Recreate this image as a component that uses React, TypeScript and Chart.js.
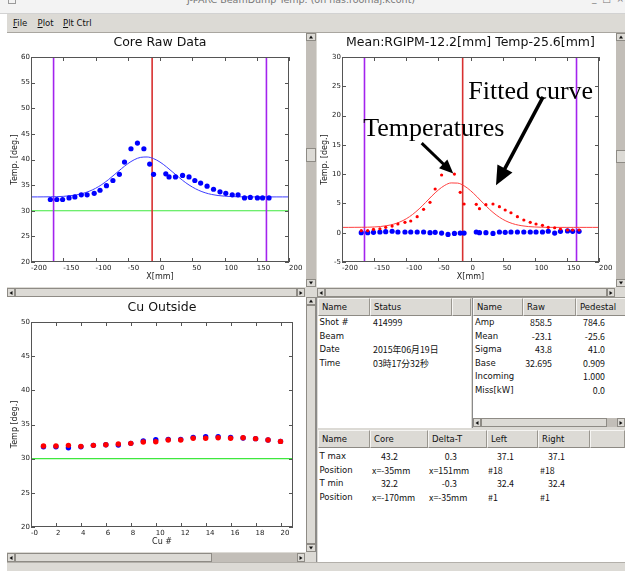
import React, { useEffect, useRef } from 'react';
import { Chart, registerables } from 'chart.js';

Chart.register(...registerables);

// ---------------- data ----------------
// thermocouple positions along the core [mm]
const positionMm = [-170, -160, -151, -141, -132, -122, -113, -102, -93, -83, -73, -63, -55, -45, -35, -25, -16, -10, 9, 14, 24, 35, 45, 54, 63, 73, 83, 93, 102, 112, 121, 131, 140, 151, 159, 169];
// Core raw temperatures [deg.]
const coreTemp = [32.2, 32.2, 32.2, 32.5, 32.7, 33.1, 33.1, 33.4, 34.0, 34.9, 35.9, 37.1, 39.5, 42.1, 43.2, 42.1, 39.1, 37.1, 37.2, 36.6, 36.6, 36.9, 36.6, 35.9, 35.4, 34.8, 34.2, 33.7, 33.4, 33.1, 33.1, 32.5, 32.6, 32.5, 32.5, 32.5];
// pedestal-subtracted temperatures [deg.]
const netTemp = [0.34, 0.34, 0.58, 0.68, 0.92, 1.14, 1.49, 1.78, 2.0, 2.73, 4.0, 5.19, 7.46, 9.85, 11.1, 10.02, 6.9, 4.9, 4.85, 4.1, 4.78, 4.9, 4.44, 3.88, 3.41, 2.73, 2.17, 1.78, 1.49, 1.26, 0.92, 0.85, 0.63, 0.46, 0.46, 0.46];
// Delta-T [deg.]
const deltaT = [0.0, 0.0, 0.06, 0.12, 0.17, 0.25, 0.12, 0.12, 0.12, 0.12, 0.12, 0.0, 0.06, -0.06, -0.3, -0.12, -0.06, -0.06, 0.12, 0.0, 0.0, -0.12, 0.12, 0.06, 0.12, 0.12, 0.12, 0.12, 0.12, 0.12, 0.25, -0.06, 0.23, 0.3, 0.23, 0.23];

// fitted curves, read every 10 mm
const curveX = [-200, -190, -180, -170, -160, -150, -140, -130, -120, -110, -100, -90, -80, -70, -60, -50, -40, -30, -20, -10, 0, 10, 20, 30, 40, 50, 60, 70, 80, 90, 100, 110, 120, 130, 140, 150, 160, 170, 180, 190, 200];
const coreFit = [32.70, 32.70, 32.71, 32.72, 32.75, 32.81, 32.92, 33.09, 33.37, 33.79, 34.37, 35.13, 36.06, 37.11, 38.18, 39.17, 39.95, 40.42, 40.49, 40.17, 39.50, 38.57, 37.51, 36.45, 35.46, 34.64, 33.99, 33.51, 33.18, 32.97, 32.85, 32.77, 32.73, 32.71, 32.70, 32.70, 32.70, 32.70, 32.70, 32.70, 32.70];
const netFit = [0.91, 0.91, 0.92, 0.93, 0.94, 0.98, 1.06, 1.21, 1.45, 1.83, 2.38, 3.13, 4.07, 5.15, 6.28, 7.30, 8.09, 8.50, 8.47, 8.01, 7.19, 6.15, 5.02, 3.95, 3.03, 2.30, 1.77, 1.41, 1.19, 1.05, 0.98, 0.94, 0.92, 0.91, 0.91, 0.91, 0.91, 0.91, 0.91, 0.91, 0.91];

const boundaryMm = [-165, 165];
const meanMm = -12.2;
const referenceTemp = 30;

// axis ranges / ticks
const mmRange = [-200, 200, 50];
const coreRange = [20, 60, 5];
const netRange = [-5, 30, 5];
const cuXRange = [0, 21, 2];
const cuYRange = [20, 50, 5];

// Cu outside
const cuNumber = [1, 2, 3, 4, 5, 6, 7, 8, 9, 10, 11, 12, 13, 14, 15, 16, 17, 18, 19, 20];
const cuLeftTemp = [31.75, 31.75, 31.6, 31.75, 31.95, 32.04, 32.0, 32.24, 32.58, 32.78, 32.83, 32.83, 33.12, 33.22, 33.22, 33.12, 33.02, 32.93, 32.73, 32.53];
const cuRightTemp = [31.85, 31.85, 31.95, 31.8, 31.95, 32.04, 32.14, 32.24, 32.44, 32.48, 32.73, 32.73, 32.98, 32.98, 33.07, 32.98, 33.07, 32.93, 32.73, 32.53];

// callouts on the Mean plot (data coordinates)
const calloutText = ['Temperatures', 'Fitted curve'];
const calloutX = [-167, -3.5];
const calloutY = [16.5, 22.8];
const arrowFromX = [-76, 113];
const arrowFromY = [15.3, 23.2];
const arrowToX = [-26.8, 39.7];
const arrowToY = [10.1, 8.1];

// tables
const statusNames = ['Shot #', 'Beam', 'Date', 'Time'];
const statusValues = ['414999', '', '2015年06月19日', '03時17分32秒'];
const fitNames = ['Amp', 'Mean', 'Sigma', 'Base', 'Incoming', 'Miss[kW]'];
const fitRaw = ['858.5', '-23.1', '43.8', '32.695', '', ''];
const fitPedestal = ['784.6', '-25.6', '41.0', '0.909', '1.000', '0.0'];
const summaryNames = ['T max', 'Position', 'T min', 'Position'];
const summaryCore = ['43.2', 'x=-35mm', '32.2', 'x=-170mm'];
const summaryDelta = ['0.3', 'x=151mm', '-0.3', 'x=-35mm'];
const summaryLeft = ['37.1', '#18', '32.4', '#1'];
const summaryRight = ['37.1', '#18', '32.4', '#1'];

// ---------------- chart helpers ----------------
const pts = (xs: number[], ys: number[]) => xs.map((x, i) => ({ x, y: ys[i] }));
const vline = (x: number, r: number[]) => [{ x, y: r[0] }, { x, y: r[1] }];
const hline = (y: number, r: number[]) => [{ x: r[0], y }, { x: r[1], y }];

const TICK_FONT = { family: 'DejaVu Sans', size: 7 };

function decor(o: { title: string; xTitle: string; yTitle: string; titleY: number; xTitleY: number; yTitleX: number }) {
  return {
    id: 'decor',
    afterDatasetsDraw(chart: any) {
      const { ctx, chartArea: a } = chart;
      const xs = chart.scales.x;
      const ys = chart.scales.y;
      ctx.save();
      ctx.strokeStyle = '#555';
      ctx.lineWidth = 1;
      ctx.strokeRect(a.left + 0.5, a.top + 0.5, a.right - a.left - 1, a.bottom - a.top - 1);
      ctx.beginPath();
      for (const t of xs.ticks) {
        const p = Math.round(xs.getPixelForValue(t.value)) + 0.5;
        ctx.moveTo(p, a.bottom); ctx.lineTo(p, a.bottom - 4);
        ctx.moveTo(p, a.top); ctx.lineTo(p, a.top + 4);
      }
      for (const t of ys.ticks) {
        const p = Math.round(ys.getPixelForValue(t.value)) + 0.5;
        ctx.moveTo(a.left, p); ctx.lineTo(a.left + 4, p);
        ctx.moveTo(a.right, p); ctx.lineTo(a.right - 4, p);
      }
      ctx.stroke();
      ctx.fillStyle = '#111';
      ctx.textAlign = 'center';
      ctx.textBaseline = 'middle';
      ctx.font = '12.5px "DejaVu Sans"';
      ctx.fillText(o.title, (a.left + a.right) / 2, o.titleY);
      ctx.font = '8px "DejaVu Sans"';
      ctx.fillStyle = '#222';
      ctx.fillText(o.xTitle, (a.left + a.right) / 2, o.xTitleY);
      ctx.translate(o.yTitleX, (a.top + a.bottom) / 2);
      ctx.rotate(-Math.PI / 2);
      ctx.fillText(o.yTitle, 0, 0);
      ctx.restore();
    },
  };
}

function drawArrow(ctx: CanvasRenderingContext2D, x1: number, y1: number, x2: number, y2: number, lw: number, hl: number, hw: number) {
  const ang = Math.atan2(y2 - y1, x2 - x1);
  const c = Math.cos(ang), s = Math.sin(ang);
  const bx = x2 - hl * c, by = y2 - hl * s;
  ctx.lineWidth = lw;
  ctx.beginPath();
  ctx.moveTo(x1, y1);
  ctx.lineTo(bx + c, by + s);
  ctx.stroke();
  ctx.beginPath();
  ctx.moveTo(x2, y2);
  ctx.lineTo(bx + hw * s, by - hw * c);
  ctx.lineTo(bx - hw * s, by + hw * c);
  ctx.closePath();
  ctx.fill();
}

const calloutPlugin = {
  id: 'callouts',
  afterDraw(chart: any) {
    const { ctx, chartArea: a } = chart;
    const xs = chart.scales.x, ys = chart.scales.y;
    ctx.save();
    ctx.beginPath();
    ctx.rect(a.left, 0, a.right - a.left, chart.height);
    ctx.clip();
    ctx.fillStyle = '#000';
    ctx.strokeStyle = '#000';
    ctx.font = '26px "Liberation Serif"';
    ctx.textAlign = 'left';
    ctx.textBaseline = 'alphabetic';
    calloutText.forEach((t, i) => ctx.fillText(t, xs.getPixelForValue(calloutX[i]), ys.getPixelForValue(calloutY[i])));
    const heads = [[3, 14, 6], [3.5, 19, 8.5]];
    arrowFromX.forEach((_, i) => {
      drawArrow(ctx, xs.getPixelForValue(arrowFromX[i]), ys.getPixelForValue(arrowFromY[i]), xs.getPixelForValue(arrowToX[i]), ys.getPixelForValue(arrowToY[i]), heads[i][0], heads[i][1], heads[i][2]);
    });
    ctx.restore();
  },
};

function baseOptions(p: { xr: number[]; yr: number[]; yWidth: number; padTop: number; padRight: number; xLabel?: (v: number) => string }) {
  return {
    responsive: false,
    animation: false,
    events: [],
    layout: { padding: { left: 0, top: p.padTop, right: p.padRight, bottom: 0 } },
    plugins: { legend: { display: false }, tooltip: { enabled: false }, title: { display: false } },
    scales: {
      x: {
        type: 'linear', min: p.xr[0], max: p.xr[1],
        afterFit: (s: any) => { s.height = 25; },
        grid: { display: false, drawTicks: false }, border: { display: false },
        ticks: {
          stepSize: p.xr[2], autoSkip: false, maxRotation: 0, minRotation: 0, align: 'start', padding: 1.5,
          includeBounds: false, font: TICK_FONT, color: '#1a1a1a',
          callback: p.xLabel ? (v: any) => p.xLabel!(Number(v)) : undefined,
        },
      },
      y: {
        type: 'linear', min: p.yr[0], max: p.yr[1],
        afterFit: (s: any) => { s.width = p.yWidth; },
        grid: { display: false, drawTicks: false }, border: { display: false },
        ticks: { stepSize: p.yr[2], autoSkip: false, padding: 1, font: TICK_FONT, color: '#1a1a1a' },
      },
    },
  };
}

const lineDs = (data: any[], color: string, width: number, order: number, smooth = false) => ({
  data, showLine: true, borderColor: color, borderWidth: width, pointRadius: 0, fill: false, order,
  cubicInterpolationMode: smooth ? 'monotone' : 'default',
});
const dotDs = (data: any[], color: string, r: number, order: number) => ({
  data, showLine: false, pointRadius: r, pointBackgroundColor: color, pointBorderColor: color, pointBorderWidth: 0, backgroundColor: color, borderColor: color, order,
});

const PURPLE = '#a323ee';
const REDLINE = '#d83030';
const GREEN = '#3ee83e';

function coreConfig() {
  return {
    type: 'scatter',
    data: {
      datasets: [
        dotDs(pts(positionMm, coreTemp), '#0000ff', 2.6, 0),
        lineDs(pts(curveX, coreFit), '#3c3cff', 1, 1, true),
        lineDs(vline(boundaryMm[0], coreRange), PURPLE, 1.6, 2),
        lineDs(vline(boundaryMm[1], coreRange), PURPLE, 1.6, 2),
        lineDs(vline(meanMm, coreRange), REDLINE, 1.6, 2),
        lineDs(hline(referenceTemp, mmRange), GREEN, 1.2, 3),
      ],
    },
    options: baseOptions({ xr: mmRange, yr: coreRange, yWidth: 24, padTop: 24, padRight: 17 }),
    plugins: [decor({ title: 'Core Raw Data', xTitle: 'X[mm]', yTitle: 'Temp. [deg.]', titleY: 10, xTitleY: 243.7, yTitleX: 8 })],
  };
}

function meanConfig() {
  return {
    type: 'scatter',
    data: {
      datasets: [
        dotDs(pts(positionMm, netTemp), '#ff0000', 1.6, 0),
        dotDs(pts(positionMm, deltaT), '#0000ff', 2.6, 1),
        lineDs(pts(curveX, netFit), '#ff4040', 1, 2, true),
        lineDs(vline(boundaryMm[0], netRange), PURPLE, 1.6, 3),
        lineDs(vline(boundaryMm[1], netRange), PURPLE, 1.6, 3),
        lineDs(vline(meanMm, netRange), REDLINE, 1.6, 3),
      ],
    },
    options: baseOptions({ xr: mmRange, yr: netRange, yWidth: 25, padTop: 24, padRight: 17 }),
    plugins: [decor({ title: 'Mean:RGIPM-12.2[mm] Temp-25.6[mm]', xTitle: 'X[mm]', yTitle: 'Temp. [deg.]', titleY: 10, xTitleY: 243.7, yTitleX: 8 }), calloutPlugin],
  };
}

function cuConfig() {
  return {
    type: 'scatter',
    data: {
      datasets: [
        dotDs(pts(cuNumber, cuRightTemp), '#ff0000', 2.7, 0),
        dotDs(pts(cuNumber, cuLeftTemp), '#0000ff', 2.7, 1),
        lineDs(hline(referenceTemp, cuXRange), GREEN, 1.2, 2),
      ],
    },
    options: baseOptions({ xr: cuXRange, yr: cuYRange, yWidth: 24, padTop: 25, padRight: 13, xLabel: (v) => (v === 0 ? '-0' : String(v)) }),
    plugins: [decor({ title: 'Cu Outside', xTitle: 'Cu #', yTitle: 'Temp [deg.]', titleY: 11, xTitleY: 245.3, yTitleX: 8 })],
  };
}

function ChartCanvas({ x, y, w, h, make }: { x: number; y: number; w: number; h: number; make: () => any }) {
  const ref = useRef<HTMLCanvasElement>(null);
  useEffect(() => {
    const chart = new Chart(ref.current as HTMLCanvasElement, make());
    return () => chart.destroy();
  }, []);
  return <canvas ref={ref} width={w} height={h} style={{ position: 'absolute', left: x, top: y, width: w, height: h, background: '#fff', display: 'block' }} />;
}

// ---------------- GUI chrome ----------------
const GRAY = '#dcdad5';
const TROUGH = '#c2beb8';
const EDGE = '#8e8b85';

function abs(x: number, y: number, w: number, h: number, extra: React.CSSProperties = {}): React.CSSProperties {
  return { position: 'absolute', left: x, top: y, width: w, height: h, boxSizing: 'border-box', ...extra };
}

function Tri({ dir }: { dir: 'up' | 'down' | 'left' | 'right' }) {
  const st: React.CSSProperties = { position: 'absolute', left: '50%', top: '50%', width: 0, height: 0, transform: 'translate(-50%,-50%)' };
  const t = '2.5px solid transparent';
  if (dir === 'up') Object.assign(st, { borderLeft: t, borderRight: t, borderBottom: '3px solid #111' });
  if (dir === 'down') Object.assign(st, { borderLeft: t, borderRight: t, borderTop: '3px solid #111' });
  if (dir === 'left') Object.assign(st, { borderTop: t, borderBottom: t, borderRight: '3px solid #111' });
  if (dir === 'right') Object.assign(st, { borderTop: t, borderBottom: t, borderLeft: '3px solid #111' });
  return <div style={st} />;
}

function Btn({ x, y, w, h, dir }: { x: number; y: number; w: number; h: number; dir: 'up' | 'down' | 'left' | 'right' }) {
  return (
    <div style={abs(x, y, w, h, { background: GRAY, border: `1px solid ${EDGE}` })}>
      <Tri dir={dir} />
    </div>
  );
}

function HScroll({ x, y, w, thumb }: { x: number; y: number; w: number; thumb?: number[] }) {
  const h = 9;
  const t = thumb || [8, w - 8];
  return (
    <div style={abs(x, y, w, h, { background: TROUGH })}>
      <div style={abs(t[0], 0, t[1] - t[0], h, { background: GRAY, border: `1px solid ${EDGE}` })} />
      <Btn x={0} y={0} w={8} h={h} dir="left" />
      <Btn x={w - 8} y={0} w={8} h={h} dir="right" />
    </div>
  );
}

function VScroll({ x, y, h, w = 10, thumb }: { x: number; y: number; h: number; w?: number; thumb?: number[] }) {
  const t = thumb || [8, h - 8];
  return (
    <div style={abs(x, y, w, h, { background: TROUGH })}>
      <div style={abs(0, t[0], w, t[1] - t[0], { background: GRAY, border: `1px solid ${EDGE}` })} />
      <Btn x={0} y={0} w={w} h={8} dir="up" />
      <Btn x={0} y={h - 8} w={w} h={8} dir="down" />
    </div>
  );
}

function Header({ cells, y }: { cells: [number, number, string][]; y: number }) {
  return (
    <>
      {cells.map(([x, w, label], i) => (
        <div key={i} style={abs(x, y, w, 18, {
          background: GRAY, borderTop: '1px solid #f6f5f3', borderLeft: '1px solid #f6f5f3',
          borderRight: '1px solid #99968f', borderBottom: '1px solid #8d8a84',
          font: '8.5px "DejaVu Sans"', lineHeight: '16px', paddingLeft: 3, color: '#111', whiteSpace: 'nowrap', overflow: 'hidden',
        })}>{label}</div>
      ))}
    </>
  );
}

const ROW_H = 13.6;
const isNum = (s: string) => /^-?\d+(\.\d+)?$/.test(s);

function Column({ values, top, left, numRight, name }: { values: string[]; top: number; left: number; numRight?: number; name?: boolean }) {
  return (
    <>
      {values.map((v, i) => {
        const y = top + i * ROW_H;
        const font = name ? '8.5px "DejaVu Sans"' : '8.8px "Noto Sans CJK JP"';
        const common: React.CSSProperties = { font, lineHeight: `${ROW_H}px`, color: '#111', whiteSpace: 'nowrap' };
        if (!name && numRight !== undefined && isNum(v)) {
          return <div key={i} style={abs(numRight - 60, y, 60, ROW_H, { ...common, textAlign: 'right' })}>{v}</div>;
        }
        return <div key={i} style={abs(left, y, 120, ROW_H, common)}>{v}</div>;
      })}
    </>
  );
}

export default function App() {
  return (
    <div style={{ position: 'absolute', left: 0, top: 0, width: 625, height: 571, background: '#ffffff', overflow: 'hidden', fontFamily: '"DejaVu Sans", sans-serif' }}>
      {/* title bar */}
      <div style={abs(0, 0, 625, 14, { background: '#f3f3f3', borderBottom: '1px solid #d2d2d2', overflow: 'hidden' })}>
        <div style={abs(8, -4, 8, 8, { border: '1px solid #9a9a9a' })} />
        <div style={{ position: 'absolute', left: 0, width: 602, top: -6, textAlign: 'center', font: '9.5px "DejaVu Sans"', color: '#777', whiteSpace: 'nowrap' }}>
          J-PARC BeamDump Temp. (on nas.roomaj.kcont)
        </div>
        <div style={{ position: 'absolute', left: 592, top: -6, font: '9px "DejaVu Sans"', color: '#777', whiteSpace: 'pre' }}>{'_  □  ×'}</div>
      </div>

      {/* window body */}
      <div style={abs(7, 14, 618, 557, { background: GRAY })} />

      {/* menu bar */}
      <div style={abs(7, 14, 618, 19, { background: GRAY, borderBottom: '1px solid #a9a6a0' })}>
        {[['F', 'ile', 6], ['P', 'lot', 30.5], ['P', 'lt Ctrl', 56]].map(([u, rest, x], i) => (
          <div key={i} style={{ position: 'absolute', left: x as number, top: 3, font: '8.5px "DejaVu Sans"', color: '#111', lineHeight: '12px', whiteSpace: 'pre' }}>
            <span style={{ textDecoration: 'underline' }}>{u}</span>{rest}
          </div>
        ))}
      </div>

      {/* charts */}
      <ChartCanvas x={7} y={33} w={299} h={254} make={coreConfig} />
      <ChartCanvas x={317} y={33} w={299} h={254} make={meanConfig} />
      <ChartCanvas x={7} y={297} w={299} h={255} make={cuConfig} />

      {/* scrollbars of the chart panes */}
      <VScroll x={306} y={33} h={254} thumb={[115, 129]} />
      <VScroll x={616} y={33} h={254} w={10} thumb={[117, 130]} />
      <HScroll x={7} y={288} w={298} />
      <HScroll x={317} y={288} w={298} />
      <HScroll x={7} y={553} w={298} thumb={[8, 205]} />
      <VScroll x={306} y={297} h={255} />

      {/* table pane */}
      <div style={abs(316, 297, 1, 265, { background: '#8a8a8a' })} />
      <div style={abs(317, 297, 308, 1, { background: '#9a9892' })} />

      {/* status table */}
      <div style={abs(318, 316, 153, 112, { background: '#fff' })} />
      <Header y={298} cells={[[318, 52, 'Name'], [370, 82, 'Status'], [452, 19, '']]} />
      <Column values={statusNames} top={316} left={319.5} name />
      <Column values={statusValues} top={316} left={373} />

      {/* fit table */}
      <div style={abs(472, 298, 1, 130, { background: '#8a8a8a' })} />
      <div style={abs(473, 316, 152, 102, { background: '#fff' })} />
      <Header y={298} cells={[[473, 50, 'Name'], [523, 53, 'Raw'], [576, 52, 'Pedestal']]} />
      <Column values={fitNames} top={316} left={475} name />
      <Column values={fitRaw} top={316} left={528} numRight={552} />
      <Column values={fitPedestal} top={316} left={581} numRight={605} />
      <HScroll x={473} y={418} w={152} thumb={[8, 134]} />

      {/* summary table */}
      <div style={abs(318, 448, 307, 114, { background: '#fff' })} />
      <Header y={430} cells={[[318, 52, 'Name'], [370, 58, 'Core'], [428, 59, 'Delta-T'], [487, 51, 'Left'], [538, 52, 'Right'], [590, 35, '']]} />
      <Column values={summaryNames} top={450} left={319.5} name />
      <Column values={summaryCore} top={450} left={372} numRight={398} />
      <Column values={summaryDelta} top={450} left={429} numRight={457} />
      <Column values={summaryLeft} top={450} left={488} numRight={514} />
      <Column values={summaryRight} top={450} left={540} numRight={565} />

      {/* status bar */}
      <div style={abs(7, 562, 618, 9, { background: GRAY, borderTop: '1px solid #b3b0aa' })} />
    </div>
  );
}
